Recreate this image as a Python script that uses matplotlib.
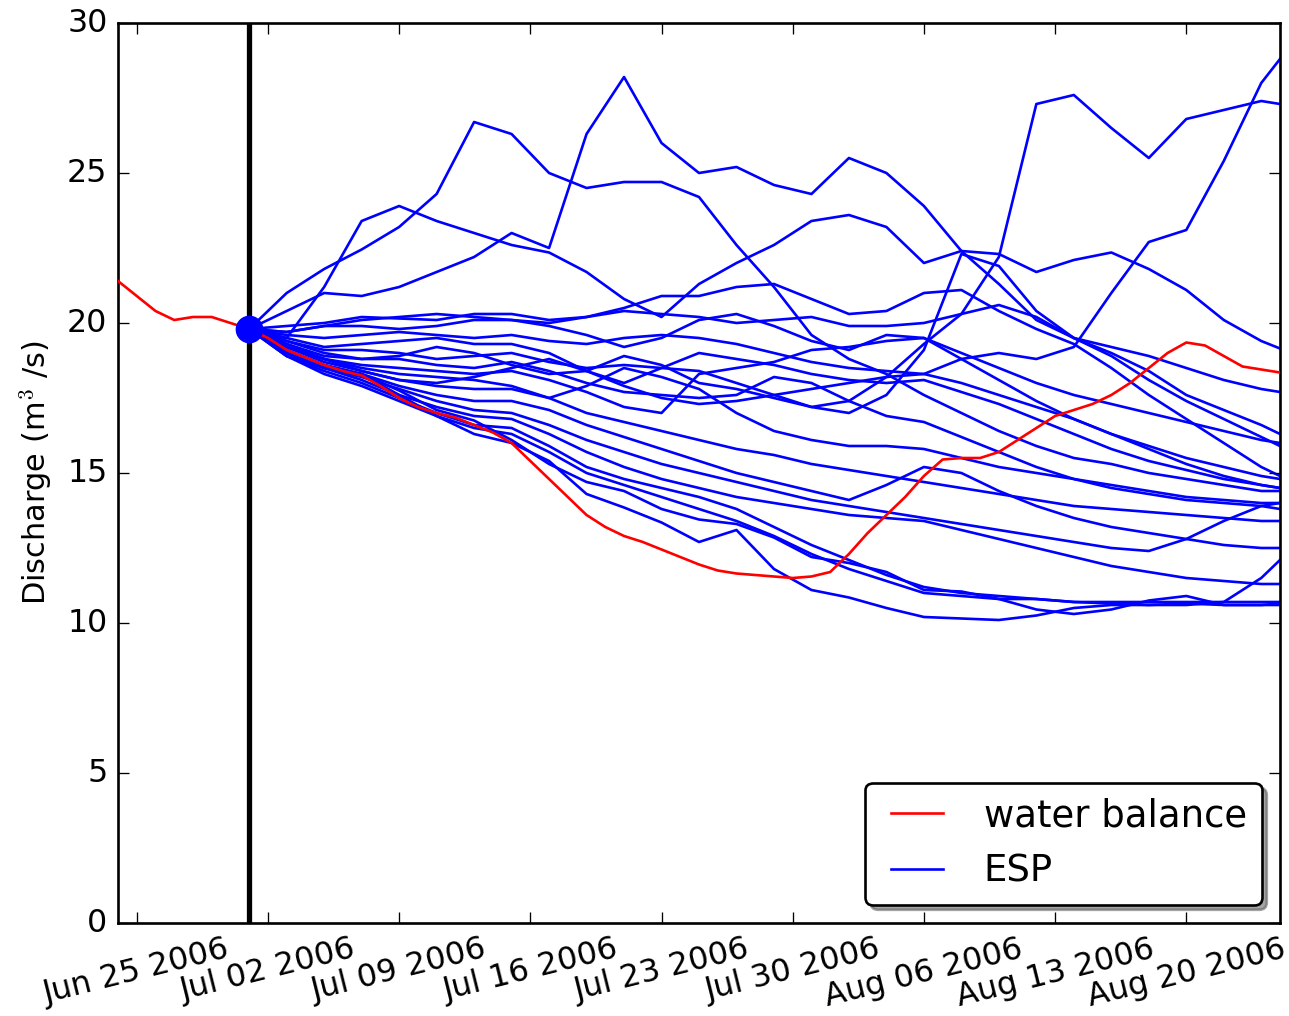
import numpy as np
import pandas as pd
import matplotlib
matplotlib.use('Agg')
import matplotlib.pyplot as plt
import matplotlib.dates as mdates

# ---- data ------------------------------------------------------------------
# water balance (daily, Jun 24 .. Aug 25 2006)
wb_start = '2006-06-24'
wb_values = [21.4, 20.9, 20.4, 20.1, 20.2, 20.2, 20.0, 19.8, 19.5, 19.1,
             18.85, 18.6, 18.4, 18.25, 17.9, 17.5, 17.2, 17.0, 16.85, 16.6,
             16.35, 16.0, 15.4, 14.8, 14.2, 13.6, 13.2, 12.9, 12.7, 12.45,
             12.2, 11.95, 11.75, 11.65, 11.6, 11.55, 11.5, 11.55, 11.7, 12.3,
             13.0, 13.6, 14.2, 14.9, 15.45, 15.5, 15.5, 15.7, 16.1, 16.5,
             16.9, 17.1, 17.3, 17.6, 18.0, 18.5, 19.0, 19.35, 19.25, 18.9,
             18.55, 18.45, 18.35]

# ESP members, every 2nd day from Jul 01 plus Aug 25
forecast_start = '2006-07-01'
start_value = 19.8
esp_values = [
    [19.8, 21.0, 21.8, 22.45, 23.2, 24.3, 26.7, 26.3, 25.0, 24.5, 24.7, 24.7, 24.2, 22.6, 21.2,
     19.6, 18.8, 18.3, 17.6, 17.0, 16.4, 15.9, 15.5, 15.3, 15.0, 14.8, 14.6, 14.4, 14.4],
    [19.8, 19.5, 21.2, 23.4, 23.9, 23.4, 23.0, 22.6, 22.35, 21.7, 20.8, 20.2, 21.3, 22.0, 22.6,
     23.4, 23.6, 23.2, 22.0, 22.4, 22.3, 21.7, 22.1, 22.35, 21.8, 21.1, 20.1, 19.4, 19.15],
    [19.8, 20.4, 21.0, 20.9, 21.2, 21.7, 22.2, 23.0, 22.5, 26.3, 28.2, 26.0, 25.0, 25.2, 24.6,
     24.3, 25.5, 25.0, 23.9, 22.4, 21.3, 20.1, 19.5, 18.9, 18.1, 17.4, 16.8, 16.2, 15.9],
    [19.8, 19.7, 19.9, 20.1, 20.2, 20.3, 20.2, 20.1, 20.0, 20.2, 20.5, 20.9, 20.9, 21.2, 21.3,
     20.8, 20.3, 20.4, 21.0, 21.1, 20.4, 19.8, 19.3, 18.5, 17.6, 16.8, 16.0, 15.2, 14.9],
    [19.8, 19.4, 19.0, 18.8, 18.9, 19.2, 19.0, 18.6, 18.3, 18.4, 18.9, 18.6, 18.0, 17.8, 17.5,
     17.2, 17.4, 18.2, 19.3, 20.3, 22.2, 27.3, 27.6, 26.5, 25.5, 26.8, 27.1, 27.4, 27.3],
    [19.8, 19.2, 18.8, 18.4, 18.1, 18.0, 18.2, 18.5, 18.8, 18.4, 17.9, 17.5, 17.3, 17.4, 17.6,
     17.8, 18.0, 18.2, 18.3, 18.8, 19.0, 18.8, 19.2, 21.0, 22.7, 23.1, 25.4, 28.0, 28.8],
    [19.8, 18.9, 18.5, 18.3, 17.6, 16.9, 16.3, 16.0, 15.4, 14.3, 13.85, 13.35, 12.7, 13.1, 11.8,
     11.1, 10.85, 10.5, 10.2, 10.15, 10.1, 10.25, 10.5, 10.6, 10.6, 10.65, 10.6, 10.6, 10.6],
    [19.8, 19.1, 18.6, 18.3, 17.75, 17.1, 16.75, 16.1, 15.3, 14.7, 14.4, 13.8, 13.45, 13.3, 12.85,
     12.2, 12.0, 11.7, 11.1, 11.05, 10.8, 10.45, 10.3, 10.45, 10.75, 10.9, 10.6, 10.6, 10.65],
    [19.8, 19.9, 20.0, 20.2, 20.15, 20.1, 20.3, 20.3, 20.1, 20.2, 20.4, 20.3, 20.2, 20.0, 20.1,
     20.2, 19.9, 19.9, 20.0, 20.3, 20.6, 20.2, 19.5, 19.2, 18.9, 18.5, 18.1, 17.8, 17.7],
    [19.8, 19.7, 19.9, 19.9, 19.8, 19.9, 20.1, 20.1, 19.9, 19.6, 19.2, 19.5, 20.1, 20.3, 19.9,
     19.4, 19.1, 19.6, 19.5, 19.0, 18.5, 18.0, 17.6, 17.3, 17.0, 16.7, 16.4, 16.1, 16.0],
    [19.8, 19.6, 19.5, 19.6, 19.7, 19.6, 19.5, 19.6, 19.4, 19.3, 19.5, 19.6, 19.5, 19.3, 19.0,
     18.7, 18.5, 18.4, 18.3, 18.0, 17.6, 17.2, 16.8, 16.3, 15.9, 15.5, 15.2, 14.9, 14.8],
    [19.8, 19.5, 19.2, 19.3, 19.4, 19.5, 19.3, 19.3, 19.0, 18.4, 18.0, 18.5, 19.0, 18.8, 18.6,
     18.3, 18.1, 18.0, 18.1, 17.7, 17.3, 16.8, 16.3, 15.8, 15.4, 15.1, 14.8, 14.6, 14.5],
    [19.8, 19.4, 19.1, 19.1, 19.0, 18.8, 18.9, 19.0, 18.7, 18.5, 18.6, 18.5, 18.4, 18.0, 17.6,
     17.2, 17.0, 17.6, 19.1, 22.3, 21.9, 20.4, 19.5, 19.0, 18.4, 17.6, 17.1, 16.6, 16.3],
    [19.8, 19.3, 18.9, 18.8, 18.8, 18.6, 18.5, 18.7, 18.4, 18.0, 17.7, 17.6, 17.5, 17.6, 18.2,
     18.0, 17.4, 16.9, 16.7, 16.2, 15.7, 15.2, 14.8, 14.5, 14.3, 14.1, 14.0, 13.9, 13.8],
    [19.8, 19.3, 18.8, 18.6, 18.5, 18.4, 18.3, 18.4, 18.1, 17.7, 17.2, 17.0, 18.3, 18.5, 18.7,
     19.1, 19.2, 19.4, 19.5, 18.8, 18.1, 17.4, 16.8, 16.3, 15.8, 15.3, 14.9, 14.6, 14.5],
    [19.8, 19.2, 18.8, 18.5, 18.3, 18.2, 18.1, 17.9, 17.5, 17.9, 18.5, 18.2, 17.8, 17.0, 16.4,
     16.1, 15.9, 15.9, 15.8, 15.5, 15.2, 15.0, 14.8, 14.6, 14.4, 14.2, 14.1, 14.0, 14.0],
    [19.8, 19.2, 18.7, 18.4, 18.1, 17.9, 17.8, 17.8, 17.5, 17.0, 16.7, 16.4, 16.1, 15.8, 15.6,
     15.3, 15.1, 14.9, 14.7, 14.5, 14.3, 14.1, 13.9, 13.8, 13.7, 13.6, 13.5, 13.4, 13.4],
    [19.8, 19.1, 18.6, 18.3, 17.9, 17.6, 17.4, 17.4, 17.1, 16.6, 16.2, 15.8, 15.4, 15.0, 14.7,
     14.4, 14.1, 14.6, 15.2, 15.0, 14.4, 13.9, 13.5, 13.2, 13.0, 12.8, 12.6, 12.5, 12.5],
    [19.8, 19.0, 18.5, 18.2, 17.8, 17.4, 17.1, 17.0, 16.6, 16.1, 15.7, 15.3, 15.0, 14.7, 14.4,
     14.1, 13.9, 13.7, 13.5, 13.3, 13.1, 12.9, 12.7, 12.5, 12.4, 12.8, 13.4, 13.9, 14.0],
    [19.8, 19.0, 18.5, 18.1, 17.6, 17.2, 16.9, 16.8, 16.3, 15.7, 15.2, 14.8, 14.5, 14.2, 14.0,
     13.8, 13.6, 13.5, 13.4, 13.1, 12.8, 12.5, 12.2, 11.9, 11.7, 11.5, 11.4, 11.3, 11.3],
    [19.8, 18.9, 18.4, 18.0, 17.5, 17.0, 16.6, 16.5, 15.9, 15.2, 14.8, 14.5, 14.2, 13.8, 13.2,
     12.6, 12.1, 11.6, 11.2, 11.0, 10.9, 10.8, 10.7, 10.7, 10.7, 10.7, 10.7, 10.7, 10.7],
    [19.8, 18.9, 18.3, 17.9, 17.4, 16.9, 16.5, 16.3, 15.7, 15.0, 14.6, 14.2, 13.8, 13.4, 12.9,
     12.3, 11.8, 11.4, 11.0, 10.9, 10.8, 10.8, 10.7, 10.65, 10.6, 10.6, 10.7, 11.5, 12.1],
]

# ---- figure -----------------------------------------------------------------
plt.style.use('classic')
plt.rcParams.update({'figure.facecolor': 'white', 'savefig.facecolor': 'white',
                     'font.size': 12})

DPI = 190
fig = plt.figure(figsize=(1289 / DPI, 1016 / DPI), dpi=DPI)
ax = fig.add_axes([118 / 1289, 1 - 923 / 1016, 1162 / 1289, 900 / 1016])

wb_dates = pd.date_range(wb_start, periods=len(wb_values), freq='D')
esp_dates = pd.date_range(forecast_start, '2006-08-24', freq='2D').append(
    pd.DatetimeIndex(['2006-08-25']))

ax.axvline(pd.Timestamp(forecast_start), color='k', lw=2, zorder=1)
for i, vals in enumerate(esp_values):
    ax.plot(esp_dates, vals, 'b-', lw=1, zorder=2, label='ESP' if i == 0 else None)
ax.plot(wb_dates, wb_values, 'r-', lw=1, zorder=3, label='water balance')
ax.plot([pd.Timestamp(forecast_start)], [start_value], 'bo', ms=10, mec='b', zorder=4)

ax.set_xlim(pd.Timestamp(wb_start), pd.Timestamp('2006-08-25'))
ax.set_ylim(0, 30)
ax.xaxis.set_major_locator(mdates.WeekdayLocator(byweekday=mdates.SU))
ax.xaxis.set_major_formatter(mdates.DateFormatter('%b %d %Y'))
plt.setp(ax.get_xticklabels(), rotation=14, ha='center')
ax.set_ylabel(r'Discharge (m$^3$ /s)', fontsize=11.5)

h, l = ax.get_legend_handles_labels()
order = [l.index('water balance'), l.index('ESP')]
ax.legend([h[k] for k in order], [l[k] for k in order], loc='lower right',
          fancybox=True, shadow=True, fontsize=14)

fig.savefig('out.png', dpi=DPI)
